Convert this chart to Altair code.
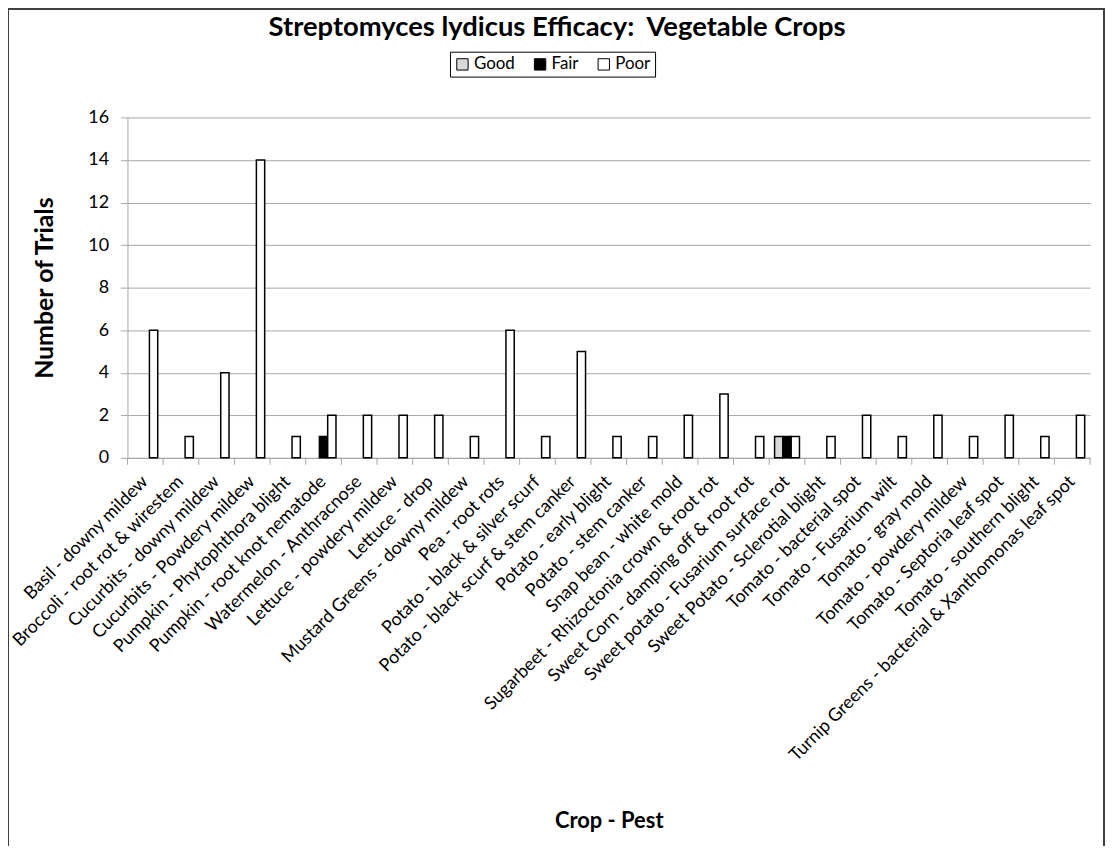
import altair as alt
import pandas as pd

categories = [
    "Basil - downy mildew",
    "Broccoli - root rot & wirestem",
    "Cucurbits - downy mildew",
    "Cucurbits - Powdery mildew",
    "Pumpkin - Phytophthora blight",
    "Pumpkin - root knot nematode",
    "Watermelon - Anthracnose",
    "Lettuce - powdery mildew",
    "Lettuce - drop",
    "Mustard Greens - downy mildew",
    "Pea - root rots",
    "Potato - black & silver scurf",
    "Potato - black scurf & stem canker",
    "Potato - early blight",
    "Potato - stem canker",
    "Snap bean - white mold",
    "Sugarbeet - Rhizoctonia crown & root rot",
    "Sweet Corn - damping off & root rot",
    "Sweet potato - Fusarium surface rot",
    "Sweet Potato - Sclerotial blight",
    "Tomato - bacterial spot",
    "Tomato - Fusarium wilt",
    "Tomato - gray mold",
    "Tomato - powdery mildew",
    "Tomato - Septoria leaf spot",
    "Tomato - southern blight",
    "Turnip Greens - bacterial & Xanthomonas leaf spot",
]
good = [0, 0, 0, 0, 0, 0, 0, 0, 0, 0, 0, 0, 0, 0, 0, 0, 0, 0, 1, 0, 0, 0, 0, 0, 0, 0, 0]
fair = [0, 0, 0, 0, 0, 1, 0, 0, 0, 0, 0, 0, 0, 0, 0, 0, 0, 0, 1, 0, 0, 0, 0, 0, 0, 0, 0]
poor = [6, 1, 4, 14, 1, 2, 2, 2, 2, 1, 6, 1, 5, 1, 1, 2, 3, 1, 1, 1, 2, 1, 2, 1, 2, 1, 2]
series = ["Good", "Fair", "Poor"]
series_colors = ["#d9d9d9", "#000000", "#ffffff"]
y_ticks = [0, 2, 4, 6, 8, 10, 12, 14, 16]

rows = []
for i, c in enumerate(categories):
    for s, vals in zip(series, [good, fair, poor]):
        rows.append({"cat": c, "series": s, "value": vals[i]})
df = pd.DataFrame(rows)

W, H = 967, 342
FONT = "Lato"
GRID = "#a6a6a6"

x_enc = alt.X(
    "cat:N",
    sort=categories,
    scale=alt.Scale(paddingInner=0, paddingOuter=0),
    axis=alt.Axis(
        title="Crop - Pest",
        labelAngle=-45,
        labelFontSize=18,
        labelColor="black",
        labelPadding=21,
        ticks=False,
        domainColor=GRID,
        domainWidth=1,
        titleFontSize=22,
        titleFontWeight="bold",
        titleColor="black",
        titleY=364,
        titleBaseline="middle",
        labelLimit=700,
    ),
)

bars = alt.Chart(df).transform_filter(alt.datum.value > 0).mark_bar(
    stroke="black", strokeWidth=1.5
).encode(
    x=x_enc,
    xOffset=alt.XOffset(
        "series:N", sort=series,
        scale=alt.Scale(domain=series, paddingInner=0, paddingOuter=0.65),
    ),
    y=alt.Y(
        "value:Q",
        scale=alt.Scale(domain=[0, 16], nice=False),
        axis=alt.Axis(
            title="Number of Trials",
            values=y_ticks,
            grid=True,
            gridColor=GRID,
            domainColor=GRID,
            tickColor=GRID,
            tickSize=7,
            labelFontSize=18,
            labelColor="black",
            labelPadding=12,
            titleFontSize=25,
            titleFontWeight="bold",
            titleColor="black",
            titleAngle=270,
            titleX=-83,
            titleY=H / 2,
            titleAlign="center",
            titleBaseline="middle",
        ),
    ),
    color=alt.Color(
        "series:N",
        sort=series,
        scale=alt.Scale(domain=series, range=series_colors),
        legend=alt.Legend(
            title=None,
            orient="none",
            legendX=324,
            legendY=-66,
            direction="horizontal",
            strokeColor="black",
            padding=4,
            labelFontSize=17,
            labelColor="black",
            symbolType="square",
            symbolSize=130,
            symbolStrokeColor="black",
            symbolStrokeWidth=1,
            columnPadding=16,
            labelOffset=3,
        ),
    ),
)

ticks = alt.Chart(pd.DataFrame({"cat": categories})).mark_rule(color=GRID).encode(
    x=alt.X("cat:N", sort=categories, bandPosition=0),
    y=alt.value(H),
    y2=alt.value(H + 7),
)
last_tick = alt.Chart(pd.DataFrame({"k": [0]})).mark_rule(color=GRID).encode(
    x=alt.value(W), y=alt.value(H), y2=alt.value(H + 7)
)

border = alt.Chart(pd.DataFrame({"k": [0]})).mark_rect(
    fill=None, stroke="#404040", strokeWidth=2
).encode(
    x=alt.value(-120), x2=alt.value(981), y=alt.value(-109), y2=alt.value(800)
)

chart = (
    alt.layer(border, ticks, last_tick, bars)
    .properties(
        width=W,
        height=H,
        autosize=alt.AutoSizeParams(type="none"),
        padding={"left": 120, "top": 108, "right": 15, "bottom": 388},
        title=alt.TitleParams(
            "Streptomyces lydicus Efficacy:\u00a0 Vegetable Crops",
            fontSize=27.5,
            fontWeight="bold",
            font=FONT,
            color="black",
            anchor="middle",
            dx=-52,
            offset=-34,
        ),
    )
    .configure(font=FONT)
    .configure_view(stroke=None)
    .configure_axis(labelFont=FONT, titleFont=FONT)
    .configure_legend(labelFont=FONT)
)

chart.save("out.html", embed_options={"renderer": "svg", "actions": False})
